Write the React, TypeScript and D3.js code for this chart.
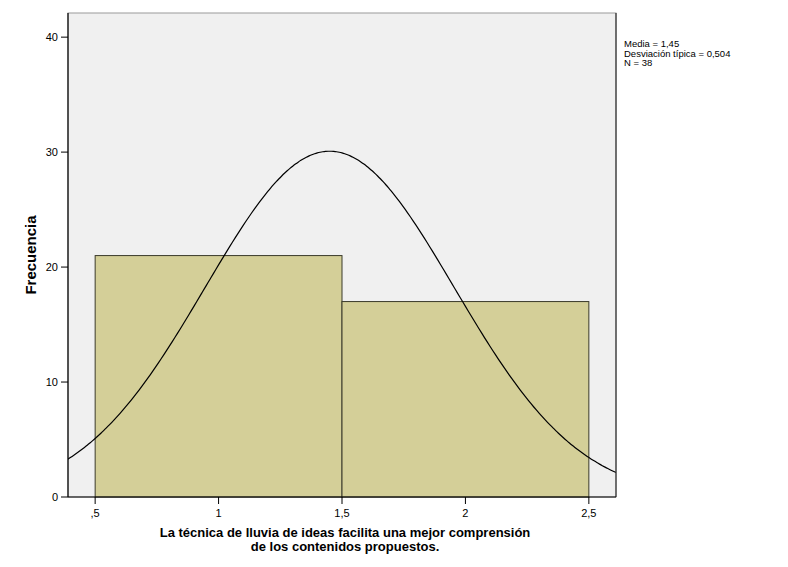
import React from "react";
import * as d3 from "d3";

const binStarts = [0.5, 1.5];
const binEnds = [1.5, 2.5];
const binCounts = [21, 17];
const xTicks = [0.5, 1, 1.5, 2, 2.5];
const xTickLabels = [",5", "1", "1,5", "2", "2,5"];
const yTicks = [0, 10, 20, 30, 40];
const meanValue = 1.45;
const sdValue = 0.504;
const nValue = 38;
const statsLines = ["Media = 1,45", "Desviación típica = 0,504", "N = 38"];
const xTitleLines = [
  "La técnica de lluvia de ideas facilita una mejor comprensión",
  "de los contenidos propuestos.",
];

export default function App() {
  const W = 788;
  const H = 567;
  const left = 68;
  const right = 616;
  const top = 13;
  const bottom = 497;
  const x = d3.scaleLinear().domain([0.39, 2.61]).range([left, right]);
  const y = d3.scaleLinear().domain([0, 42.1]).range([bottom, top]);

  const curvePts: [number, number][] = d3
    .range(0, 201)
    .map((i) => 0.39 + (i / 200) * (2.61 - 0.39))
    .map((v) => {
      const z = (v - meanValue) / sdValue;
      const dens = (nValue * 1) / (sdValue * Math.sqrt(2 * Math.PI)) * Math.exp(-0.5 * z * z);
      return [v, dens];
    });
  const line = d3
    .line<[number, number]>()
    .x((d) => x(d[0]))
    .y((d) => y(d[1]))
    .curve(d3.curveBasis);

  const font = "'Liberation Sans', Arial, sans-serif";
  return (
    <svg
      width={W}
      height={H}
      style={{ position: "absolute", left: 0, top: 0, background: "#fff" }}
      fontFamily={font}
    >
      <rect x={left} y={top} width={right - left} height={bottom - top} fill="#f0f0f0" stroke="#9a9a9a" strokeWidth={1} />
      <defs>
        <clipPath id="plotclip">
          <rect x={left} y={top} width={right - left} height={bottom - top} />
        </clipPath>
      </defs>
      {binCounts.map((c, i) => (
        <rect
          key={i}
          x={x(binStarts[i])}
          y={y(c)}
          width={x(binEnds[i]) - x(binStarts[i])}
          height={y(0) - y(c)}
          fill="#d4cf98"
          stroke="#3a3a2a"
          strokeWidth={1}
        />
      ))}
      <path d={line(curvePts) || ""} fill="none" stroke="#000" strokeWidth={1.2} clipPath="url(#plotclip)" />
      <line x1={right} x2={right} y1={top} y2={bottom} stroke="#333" strokeWidth={1.2} />
      <line x1={left} x2={left} y1={top} y2={bottom} stroke="#000" strokeWidth={1.2} />
      <line x1={left} x2={right} y1={bottom} y2={bottom} stroke="#000" strokeWidth={1.2} />
      {yTicks.map((t) => (
        <g key={t}>
          <line x1={left - 7} x2={left} y1={y(t)} y2={y(t)} stroke="#000" />
          <text x={left - 10} y={y(t)} dy="0.35em" textAnchor="end" fontSize={11}>
            {t}
          </text>
        </g>
      ))}
      {xTicks.map((t, i) => (
        <g key={t}>
          <line x1={x(t)} x2={x(t)} y1={bottom} y2={bottom + 7} stroke="#000" />
          <text x={x(t)} y={bottom + 20} textAnchor="middle" fontSize={11}>
            {xTickLabels[i]}
          </text>
        </g>
      ))}
      <text
        transform={`translate(36, ${(top + bottom) / 2}) rotate(-90)`}
        textAnchor="middle"
        fontSize={15}
        fontWeight="bold"
      >
        Frecuencia
      </text>
      {xTitleLines.map((s, i) => (
        <text key={i} x={(left + right) / 2 + 3} y={537 + i * 14} textAnchor="middle" fontSize={13} fontWeight="bold">
          {s}
        </text>
      ))}
      {statsLines.map((s, i) => (
        <text key={i} x={624} y={47 + i * 9.5} fontSize={9.5}>
          {s}
        </text>
      ))}
    </svg>
  );
}
